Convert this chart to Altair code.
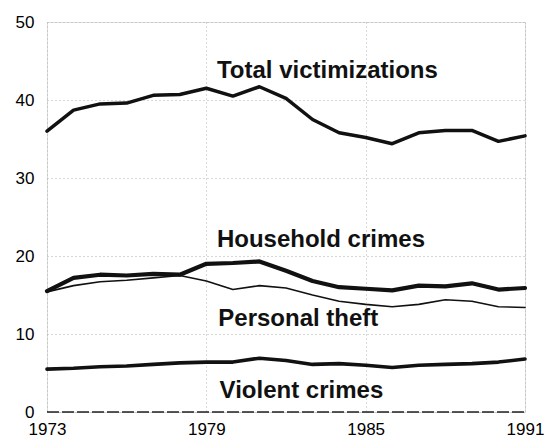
import altair as alt
import pandas as pd

years = list(range(1973, 1992))
total = [36.0, 38.7, 39.5, 39.6, 40.6, 40.7, 41.5, 40.5, 41.7, 40.2, 37.5, 35.8, 35.2, 34.4, 35.8, 36.1, 36.1, 34.7, 35.4]
household = [15.5, 17.2, 17.6, 17.5, 17.7, 17.6, 19.0, 19.1, 19.3, 18.1, 16.8, 16.0, 15.8, 15.6, 16.2, 16.1, 16.5, 15.7, 15.9]
personal = [15.4, 16.2, 16.7, 16.9, 17.2, 17.5, 16.8, 15.7, 16.2, 15.9, 15.0, 14.2, 13.8, 13.5, 13.8, 14.4, 14.2, 13.5, 13.4]
violent = [5.5, 5.6, 5.8, 5.9, 6.1, 6.3, 6.4, 6.4, 6.9, 6.6, 6.1, 6.2, 6.0, 5.7, 6.0, 6.1, 6.2, 6.4, 6.8]

series_names = ["Total victimizations", "Household crimes", "Personal theft", "Violent crimes"]
series_widths = [3.5, 4.2, 1.6, 3.6]
label_x = [1979.4, 1979.4, 1979.45, 1979.5]
label_y = [42.8, 21.15, 11.0, 1.8]

x_ticks = [1973, 1979, 1985, 1991]
y_ticks = [0, 10, 20, 30, 40, 50]

rows = []
for name, vals, w in zip(series_names, [total, household, personal, violent], series_widths):
    for yr, v in zip(years, vals):
        rows.append({"year": yr, "value": v, "series": name, "w": w})
df = pd.DataFrame(rows)

labels = pd.DataFrame({"series": series_names, "x": label_x, "y": label_y})
base_zero = pd.DataFrame({"a": [1973], "b": [1991], "y": [0]})

xs = alt.Scale(domain=[1973, 1991], nice=False, zero=False)
ys = alt.Scale(domain=[0, 50], nice=False)

x_axis = alt.Axis(values=x_ticks, format="d", grid=True, gridColor="#b0b0b0", gridDash=[1, 3],
                  gridWidth=1, domain=False, ticks=False, labelFontSize=17, labelFont="Liberation Sans",
                  labelColor="black", labelPadding=9, title=None, labelFlush=False)
y_axis = alt.Axis(values=y_ticks, grid=True, gridColor="#b0b0b0", gridDash=[1, 3], gridWidth=1,
                  domain=False, ticks=False, labelFontSize=17, labelFont="Liberation Sans",
                  labelColor="black", labelPadding=13, title=None)

lines = alt.Chart(df).mark_line(color="#111111", strokeJoin="round", strokeCap="round").encode(
    x=alt.X("year:Q", scale=xs, axis=x_axis),
    y=alt.Y("value:Q", scale=ys, axis=y_axis),
    detail="series:N",
    strokeWidth=alt.StrokeWidth("w:Q", scale=None, legend=None),
)

zero_line = alt.Chart(base_zero).mark_rule(color="#222222", strokeDash=[12, 3], strokeWidth=1.3).encode(
    x=alt.X("a:Q", scale=xs), x2="b:Q", y=alt.Y("y:Q", scale=ys)
)

text = alt.Chart(labels).mark_text(align="left", baseline="alphabetic", font="Liberation Sans",
                                   fontWeight="bold", fontSize=24, color="#111111").encode(
    x=alt.X("x:Q", scale=xs), y=alt.Y("y:Q", scale=ys), text="series:N"
)

chart = alt.layer(zero_line, lines, text).properties(
    width=478, height=390,
    padding={"left": 39, "top": 14, "right": 20, "bottom": 30},
    autosize="none",
).configure_view(stroke=None).configure(background="white")

chart.save("out.html", embed_options={"renderer": "svg", "actions": False})
